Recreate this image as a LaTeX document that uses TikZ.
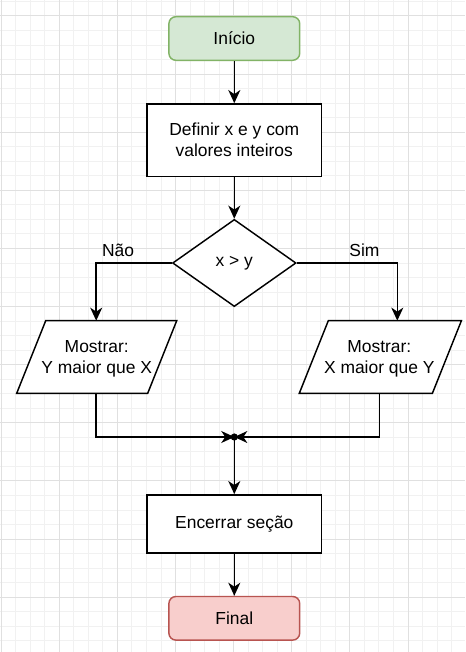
\documentclass[tikz,border=0pt]{standalone}
\usepackage{fontspec}
\setmainfont{Liberation Sans}
\usetikzlibrary{arrows.meta,shapes.geometric}
\newcommand{\dfont}{\fontsize{13.08}{15.7}\selectfont}
\definecolor{startfill}{HTML}{D5E8D4}
\definecolor{startline}{HTML}{82B366}
\definecolor{endfill}{HTML}{F8CECC}
\definecolor{endline}{HTML}{B85450}
\definecolor{gridminor}{HTML}{F1F1F1}
\definecolor{gridmajor}{HTML}{E0E0E0}
\tikzset{
  basebox/.style={line width=1.09pt, align=center, inner sep=0pt, font=\dfont, text=black},
  terminal/.style={basebox, rounded corners=5.25pt, minimum width=98.1pt, minimum height=32.7pt},
  procbox/.style={basebox, draw=black, fill=white, minimum width=130.8pt},
  decision/.style={basebox, diamond, draw=black, fill=white, aspect=1.417, minimum width=92.6pt, minimum height=65.4pt},
  iotext/.style={basebox},
  ioshape/.style={draw=black, fill=white, line width=1.09pt, line join=miter},
  conn/.style={draw=black, line width=1.09pt},
  arr/.style={conn, -{Stealth[length=9.8pt, width=9pt, inset=3pt]}},
  lbl/.style={font=\dfont, text=black, inner sep=0pt},
  minorgrid/.style={draw=gridminor, line width=0.75pt},
  majorgrid/.style={draw=gridmajor, line width=0.75pt}
}
\begin{document}
\begin{tikzpicture}[x=0.75pt,y=-0.75pt]
\useasboundingbox (0,0) rectangle (465,652);
\fill[white] (0,0) rectangle (465,652);
% grid
\foreach \k in {0,...,31} \draw[minorgrid] ({1.2+14.53*\k},0) -- ({1.2+14.53*\k},652);
\foreach \k in {0,...,44} \draw[minorgrid] (0,{1.47+14.53*\k}) -- (465,{1.47+14.53*\k});
\foreach \k in {0,...,7} \draw[majorgrid] ({1.2+58.12*\k},0) -- ({1.2+58.12*\k},652);
\foreach \k in {0,...,10} \draw[majorgrid] (0,{16+58.12*\k}) -- (465,{16+58.12*\k});

% nodes
\node[terminal, draw=startline, fill=startfill] (start) at (234.3,38.5) {Início};
\node[procbox, minimum height=54.5pt] (def) at (234.3,140.2) {Definir x e y com\\valores inteiros};
\node[decision] (dec) at (234.3,263) {x > y};

\draw[ioshape] (16.7,393.3) -- (45.7,320.7) -- (176.7,320.7) -- (147.7,393.3) -- cycle;
\node[iotext] (showl) at (96.7,358.5) {Mostrar:\\Y maior que X};
\draw[ioshape] (299.3,393.3) -- (328.3,320.7) -- (461.4,320.7) -- (432.4,393.3) -- cycle;
\node[iotext] (showr) at (379.3,358.5) {Mostrar:\\X maior que Y};

\coordinate (ltop) at (96.2,320.7);
\coordinate (lbot) at (96.2,393.3);
\coordinate (rtop) at (397.3,320.7);
\coordinate (rbot) at (379.3,393.3);
\coordinate (merge) at (234.3,437);

\node[procbox, minimum height=43.6pt] (close) at (234.3,523.9) {Encerrar seção};
\node[terminal, draw=endline, fill=endfill] (final) at (234.3,618.3) {Final};

% connectors
\draw[arr] (start.south) -- (def.north);
\draw[arr] (def.south) -- (dec.north);
\draw[arr] (dec.west) -| (ltop);
\draw[arr] (dec.east) -| (rtop);
\node[lbl] (nao) at (118,250) {Não};
\node[lbl] (sim) at (364.5,250.5) {Sim};
\draw[arr] (lbot) |- (merge);
\draw[arr] (rbot) |- (merge);
\draw[arr] (merge) -- (close.north);
\fill[black] (merge) circle (2.7pt);
\draw[arr] (close.south) -- (final.north);
\end{tikzpicture}
\end{document}
